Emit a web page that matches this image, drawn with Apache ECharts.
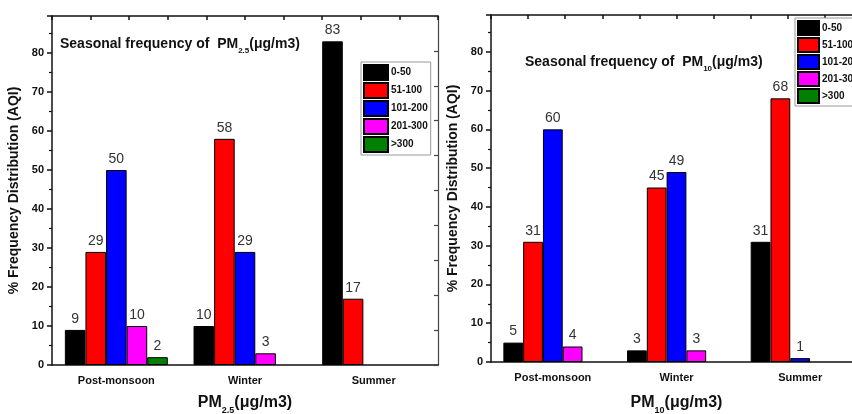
<!DOCTYPE html>
<html>
<head>
<meta charset="utf-8">
<title>Seasonal frequency of PM2.5 and PM10</title>
<script src="https://cdn.jsdelivr.net/npm/echarts@6/dist/echarts.min.js"></script>
<style>
  body { margin: 0; background: #fff; }
  #pm25 { position: absolute; left: 0; top: 0; width: 443px; height: 414px; }
  #pm10 { position: absolute; left: 440px; top: 0; width: 412px; height: 414px; }
</style>
</head>
<body>
<div id="pm25"></div>
<div id="pm10"></div>
<script>
var seasons = ['Post-monsoon', 'Winter', 'Summer'];
var ranges = ['0-50', '51-100', '101-200', '201-300', '>300'];
var colors = ['#000000', '#ff0000', '#0000ff', '#ff00ff', '#008000'];
var yLabels = [0, 10, 20, 30, 40, 50, 60, 70, 80];

// % frequency distribution per AQI range, one value per season
var pm25_0_50 = [9, 10, 83];
var pm25_51_100 = [29, 58, 17];
var pm25_101_200 = [50, 29, 0];
var pm25_201_300 = [10, 3, 0];
var pm25_over300 = [2, 0, 0];

var pm10_0_50 = [5, 3, 31];
var pm10_51_100 = [31, 45, 68];
var pm10_101_200 = [60, 49, 1];
var pm10_201_300 = [4, 3, 0];
var pm10_over300 = [0, 0, 0];

var font = '"Liberation Sans", Arial, sans-serif';
var axisColor = '#111';

function richStyle(size, subSize) {
  return {
    a: { fontFamily: font, fontWeight: 'bold', fontSize: size, color: '#111', lineHeight: size + 8, verticalAlign: 'middle' },
    s: { fontFamily: font, fontWeight: 'bold', fontSize: subSize, color: '#111', lineHeight: subSize, verticalAlign: 'bottom' }
  };
}

function makeOption(cfg) {
  var series = ranges.map(function (name, i) {
    return {
      name: name,
      type: 'bar',
      barGap: '0%',
      barCategoryGap: '20%',
      data: cfg.values[i].map(function (v) { return v === 0 ? '-' : v; }),
      itemStyle: { color: colors[i], borderColor: '#000', borderWidth: 1 },
      label: {
        show: true,
        position: 'top',
        distance: 4,
        color: '#333',
        fontFamily: font,
        fontSize: 14
      }
    };
  });

  var grid = Object.assign({ outerBoundsMode: 'none', containLabel: false }, cfg.grid);

  return {
    animation: false,
    grid: grid,
    title: {
      text: '{a|Seasonal frequency of  PM}{s|' + cfg.sub + '}{a|(μg/m3)}',
      left: cfg.titlePos[0],
      top: cfg.titlePos[1],
      padding: 0,
      textStyle: { rich: richStyle(14, 8) }
    },
    legend: {
      data: ranges,
      orient: 'vertical',
      left: cfg.legendPos[0],
      top: cfg.legendPos[1],
      itemWidth: cfg.legendItem[0],
      itemHeight: cfg.legendItem[1],
      itemGap: 1,
      padding: [2, 3, 2, 2],
      borderColor: '#999',
      borderWidth: 1,
      backgroundColor: '#fff',
      icon: 'rect',
      textStyle: { fontFamily: font, fontWeight: 'bold', fontSize: 10, color: '#111', padding: [0, 0, 0, -2] }
    },
    xAxis: [
      {
        type: 'category',
        data: seasons,
        axisLine: { lineStyle: { color: axisColor, width: 1.5 } },
        axisTick: { length: 5, lineStyle: { color: axisColor, width: 1.5 } },
        axisLabel: { fontFamily: font, fontWeight: 'bold', fontSize: 11, color: '#111', margin: 10 },
        name: '{a|PM}{s|' + cfg.sub + '}{a|(μg/m3)}',
        nameLocation: 'middle',
        nameGap: cfg.xNameGap,
        nameTextStyle: { rich: richStyle(16, 9) }
      },
      {
        type: 'category',
        data: seasons,
        axisLine: { show: false },
        axisTick: { alignWithLabel: true, length: 5, lineStyle: { color: axisColor, width: 1.5 } },
        axisLabel: { show: false }
      },
      {
        type: 'value',
        position: 'top',
        min: 0,
        max: 10,
        interval: 1,
        axisLine: { show: true, lineStyle: { color: axisColor, width: 1.5 } },
        axisTick: { show: true, inside: true, length: 4, lineStyle: { color: axisColor, width: 1.5 } },
        axisLabel: { show: false },
        splitLine: { show: false }
      }
    ],
    yAxis: [
      {
        type: 'value',
        min: 0,
        max: 89.5,
        interval: 10,
        axisLine: { show: true, lineStyle: { color: axisColor, width: 1.5 } },
        axisTick: { show: true, length: 5, lineStyle: { color: axisColor, width: 1.5 } },
        minorTick: { show: true, splitNumber: 2, length: 3, lineStyle: { color: axisColor, width: 1.2 } },
        splitLine: { show: false },
        axisLabel: {
          showMaxLabel: false,
          fontFamily: font,
          fontWeight: 'bold',
          fontSize: 11,
          color: '#111',
          margin: 8,
          formatter: function (v) { return yLabels.indexOf(v) >= 0 ? String(v) : ''; }
        },
        name: '% Frequency Distribution (AQI)',
        nameLocation: 'middle',
        nameGap: 27,
        nameTextStyle: { fontFamily: font, fontWeight: 'bold', fontSize: 14, color: '#111' }
      },
      {
        type: 'value',
        position: 'right',
        min: 0,
        max: 10,
        interval: 1,
        axisLine: { show: true, lineStyle: { color: '#444', width: 1.2 } },
        axisTick: { show: true, inside: true, length: 4, lineStyle: { color: '#444', width: 1.2 } },
        axisLabel: { show: false },
        splitLine: { show: false }
      }
    ],
    series: series
  };
}

var chart25 = echarts.init(document.getElementById('pm25'));
chart25.setOption(makeOption({
  sub: '2.5',
  values: [pm25_0_50, pm25_51_100, pm25_101_200, pm25_201_300, pm25_over300],
  grid: { left: 52, top: 16, width: 386, height: 349 },
  titlePos: [60, 33],
  legendPos: [361, 62],
  legendItem: [24, 15],
  xNameGap: 26
}));

var chart10 = echarts.init(document.getElementById('pm10'));
chart10.setOption(makeOption({
  sub: '10',
  values: [pm10_0_50, pm10_51_100, pm10_101_200, pm10_201_300, pm10_over300],
  grid: { left: 51, top: 15, width: 371, height: 347 },
  titlePos: [85, 51],
  legendPos: [355, 18],
  legendItem: [21, 14],
  xNameGap: 29
}));
</script>
</body>
</html>
